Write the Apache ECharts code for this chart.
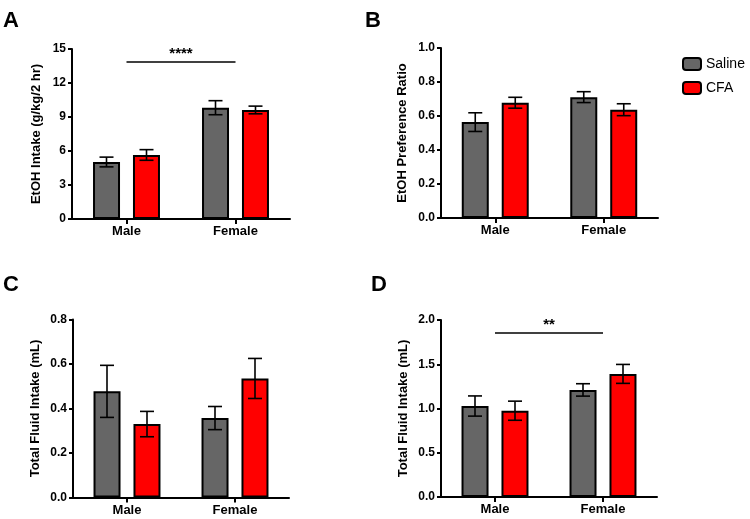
<!DOCTYPE html>
<html>
<head>
<meta charset="utf-8">
<script src="https://cdn.jsdelivr.net/npm/echarts@6/dist/echarts.min.js"></script>
<style>html,body{margin:0;padding:0;background:#fff}#c{width:750px;height:519px}</style>
</head>
<body>
<div id="c"></div>
<script>
const categories = ['Male', 'Female'];
const seriesNames = ['Saline', 'CFA'];

// Panel A: EtOH Intake (g/kg/2 hr)
const aSaline = [5.03, 9.82];
const aSalineErr = [0.43, 0.62];
const aCFA = [5.65, 9.62];
const aCFAErr = [0.47, 0.34];
const aTicks = [0, 3, 6, 9, 12, 15];

// Panel B: EtOH Preference Ratio
const bSaline = [0.564, 0.711];
const bSalineErr = [0.055, 0.032];
const bCFA = [0.678, 0.637];
const bCFAErr = [0.032, 0.035];
const bTicks = [0, 0.2, 0.4, 0.6, 0.8, 1.0];

// Panel C: Total Fluid Intake (mL)
const cSaline = [0.477, 0.357];
const cSalineErr = [0.117, 0.052];
const cCFA = [0.330, 0.535];
const cCFAErr = [0.057, 0.090];
const cTicks = [0, 0.2, 0.4, 0.6, 0.8];

// Panel D: Total Fluid Intake (mL)
const dSaline = [1.028, 1.21];
const dSalineErr = [0.114, 0.07];
const dCFA = [0.975, 1.391];
const dCFAErr = [0.108, 0.107];
const dTicks = [0, 0.5, 1.0, 1.5, 2.0];

// significance annotations
const aSig = { y: 13.9, label: '****' };
const dSig = { y: 1.86, label: '**' };

const FONT = '"Liberation Sans", Arial, sans-serif';
const COLORS = { Saline: '#666666', CFA: '#ff0000' };

const panels = [
  { letter: 'A', name: 'EtOH Intake (g/kg/2 hr)', ticks: aTicks, dec: 0, sal: aSaline, salE: aSalineErr, cfa: aCFA, cfaE: aCFAErr, sig: aSig,
    grid: { left: 72, top: 49, width: 218, height: 170 }, letterPos: { left: 3, top: 10 }, nameGap: 29 },
  { letter: 'B', name: 'EtOH Preference Ratio', ticks: bTicks, dec: 1, sal: bSaline, salE: bSalineErr, cfa: bCFA, cfaE: bCFAErr, sig: null,
    grid: { left: 441, top: 48, width: 217, height: 170 }, letterPos: { left: 365, top: 10 }, nameGap: 32 },
  { letter: 'C', name: 'Total Fluid Intake (mL)', ticks: cTicks, dec: 1, sal: cSaline, salE: cSalineErr, cfa: cCFA, cfaE: cCFAErr, sig: null,
    grid: { left: 73, top: 319.5, width: 216, height: 178 }, letterPos: { left: 3, top: 274 }, nameGap: 31 },
  { letter: 'D', name: 'Total Fluid Intake (mL)', ticks: dTicks, dec: 1, sal: dSaline, salE: dSalineErr, cfa: dCFA, cfaE: dCFAErr, sig: dSig,
    grid: { left: 441, top: 320, width: 216, height: 177 }, letterPos: { left: 371, top: 274 }, nameGap: 31 }
];

function errRender(offset) {
  return function (params, api) {
    const ci = api.value(0), v = api.value(1), e = api.value(2);
    const hi = api.coord([ci, v + e]);
    const lo = api.coord([ci, v - e]);
    const x = hi[0] + offset;
    const cap = 7;
    const st = { stroke: '#000', lineWidth: 1.6 };
    return {
      type: 'group',
      children: [
        { type: 'line', shape: { x1: x, y1: hi[1], x2: x, y2: lo[1] }, style: st },
        { type: 'line', shape: { x1: x - cap, y1: hi[1], x2: x + cap, y2: hi[1] }, style: st },
        { type: 'line', shape: { x1: x - cap, y1: lo[1], x2: x + cap, y2: lo[1] }, style: st }
      ]
    };
  };
}

const grids = [], xAxes = [], yAxes = [], series = [], titles = [];
panels.forEach((p, i) => {
  grids.push(Object.assign({ containLabel: false }, p.grid));
  titles.push({ text: p.letter, left: p.letterPos.left, top: p.letterPos.top, padding: 0,
    textStyle: { fontFamily: FONT, fontWeight: 'bold', fontSize: 22, color: '#000' } });
  xAxes.push({
    type: 'category', gridIndex: i, data: categories,
    axisLine: { show: true, lineStyle: { color: '#000', width: 2 } },
    axisTick: { show: true, alignWithLabel: true, length: 5, lineStyle: { color: '#000', width: 2 } },
    axisLabel: { color: '#000', fontFamily: FONT, fontWeight: 'bold', fontSize: 13, margin: 6 },
    splitLine: { show: false }
  });
  const tmin = p.ticks[0], tmax = p.ticks[p.ticks.length - 1];
  yAxes.push({
    type: 'value', gridIndex: i, min: tmin, max: tmax, interval: p.ticks[1] - p.ticks[0],
    name: p.name, nameLocation: 'middle', nameGap: p.nameGap,
    nameTextStyle: { color: '#000', fontFamily: FONT, fontWeight: 'bold', fontSize: 13 },
    axisLine: { show: true, lineStyle: { color: '#000', width: 2 } },
    axisTick: { show: true, length: 4, lineStyle: { color: '#000', width: 2 } },
    axisLabel: { color: '#000', fontFamily: FONT, fontWeight: 'bold', fontSize: 12, margin: 6,
      formatter: v => v.toFixed(p.dec) },
    splitLine: { show: false }
  });
  const barCommon = { type: 'bar', xAxisIndex: i, yAxisIndex: i, barWidth: 27, barGap: '48%' };
  series.push(Object.assign({}, barCommon, {
    name: 'Saline', data: p.sal,
    itemStyle: { color: COLORS.Saline, borderColor: '#000', borderWidth: 2 }
  }));
  series.push(Object.assign({}, barCommon, {
    name: 'CFA', data: p.cfa,
    itemStyle: { color: COLORS.CFA, borderColor: '#000', borderWidth: 2 }
  }));
  const salErr = {
    type: 'custom', xAxisIndex: i, yAxisIndex: i, z: 5, renderItem: errRender(-20),
    data: p.sal.map((v, k) => [k, v, p.salE[k]])
  };
  if (p.sig) {
    salErr.markLine = {
      silent: true, symbol: 'none', animation: false,
      lineStyle: { color: '#000', width: 1.5, type: 'solid' },
      label: { show: true, position: 'insideMiddleTop', formatter: p.sig.label, color: '#000',
        fontFamily: FONT, fontWeight: 'bold', fontSize: 15, distance: 0 },
      data: [[{ coord: [0, p.sig.y] }, { coord: [1, p.sig.y] }]]
    };
  }
  series.push(salErr);
  series.push({
    type: 'custom', xAxisIndex: i, yAxisIndex: i, z: 5, renderItem: errRender(20),
    data: p.cfa.map((v, k) => [k, v, p.cfaE[k]])
  });
});

const chart = echarts.init(document.getElementById('c'), null, { renderer: 'canvas' });
chart.setOption({
  animation: false,
  backgroundColor: '#fff',
  title: titles,
  legend: {
    data: seriesNames, orient: 'vertical', left: 682, top: 57, padding: 0,
    icon: 'roundRect', itemWidth: 18, itemHeight: 12, itemGap: 10,
    itemStyle: { borderColor: '#000', borderWidth: 2 },
    textStyle: { fontFamily: FONT, fontSize: 14, color: '#000' }
  },
  grid: grids, xAxis: xAxes, yAxis: yAxes, series: series
});
</script>
</body>
</html>
